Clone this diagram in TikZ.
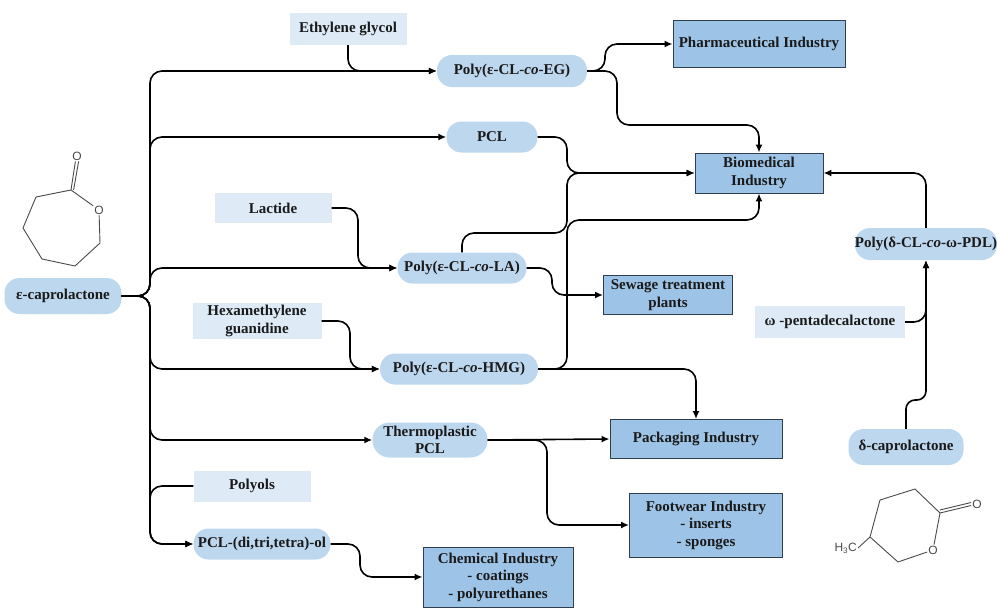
\documentclass[tikz,border=0pt]{standalone}
\usepackage{fontspec}
\setmainfont{Liberation Serif}
\newfontfamily\chemsans{Liberation Sans}
\usetikzlibrary{arrows.meta}
\definecolor{pillblue}{HTML}{BDD7EE}
\definecolor{srcblue}{HTML}{DEEBF7}
\definecolor{indblue}{HTML}{9DC3E6}
\definecolor{inddark}{HTML}{2F3F4F}
\definecolor{txt}{HTML}{1A1A1A}
\definecolor{chemgray}{HTML}{4A4A4A}
\tikzset{
  lbl/.style={font=\bfseries\fontsize{15}{17.5}\selectfont, text=txt, align=center, inner sep=0pt},
  pill/.style={lbl, fill=pillblue, rounded corners=15pt},
  srcbox/.style={lbl, fill=srcblue},
  indbox/.style={lbl, fill=indblue, draw=inddark, line width=0.9pt},
  conn/.style={line width=1.6pt, rounded corners=12pt, -{Latex[length=8pt,width=7pt]}},
  bond/.style={line width=0.9pt, chemgray},
  atom/.style={font=\chemsans\fontsize{12}{12}\selectfont, text=chemgray, inner sep=1pt}
}
\begin{document}
\begin{tikzpicture}[x=1pt,y=-1pt]
\useasboundingbox (0,0) rectangle (997,608);
% ---------- nodes ----------
\node[pill, minimum width=117, minimum height=36] (ecap) at (63,296) {ε-caprolactone};
\node[srcbox, minimum width=117, minimum height=32] (eg) at (348,29) {Ethylene glycol};
\node[pill, minimum width=150, minimum height=32] (pEG) at (512,71) {Poly(ε-CL-\textit{co}-EG)};
\node[pill, minimum width=91, minimum height=31] (pcl) at (492,137) {PCL};
\node[srcbox, minimum width=117, minimum height=30] (lac) at (273,208) {Lactide};
\node[pill, minimum width=129, minimum height=31] (pLA) at (462,268) {Poly(ε-CL-\textit{co}-LA)};
\node[srcbox, minimum width=129, minimum height=36] (hmg) at (257,321) {Hexamethylene\\guanidine};
\node[pill, minimum width=158, minimum height=31] (pHMG) at (459,369) {Poly(ε-CL-\textit{co}-HMG)};
\node[pill, minimum width=115, minimum height=35, rounded corners=17pt] (tpcl) at (430,440) {Thermoplastic\\PCL};
\node[srcbox, minimum width=117, minimum height=31] (polyols) at (252,486) {Polyols};
\node[pill, minimum width=137, minimum height=31] (pol) at (262,544) {PCL-(di,tri,tetra)-ol};
\node[indbox, minimum width=150, minimum height=60] (chem) at (498,577) {Chemical Industry\\- coatings\\- polyurethanes};
\node[indbox, minimum width=172, minimum height=47] (pharma) at (759,44) {Pharmaceutical Industry};
\node[indbox, minimum width=128, minimum height=40] (bio) at (759,173) {Biomedical\\Industry};
\node[indbox, minimum width=129, minimum height=39] (sew) at (668,295) {Sewage treatment\\plants};
\node[indbox, minimum width=172, minimum height=39] (pack) at (696,439) {Packaging Industry};
\node[indbox, minimum width=153, minimum height=64] (foot) at (706,525) {Footwear Industry\\- inserts\\- sponges};
\node[pill, minimum width=140, minimum height=32] (pPDL) at (926,244) {Poly(δ-CL-\textit{co}-ω-PDL)};
\node[srcbox, minimum width=150, minimum height=32] (omega) at (830,322) {ω -pentadecalactone};
\node[pill, minimum width=115, minimum height=36] (dcap) at (906,447) {δ-caprolactone};
% ---------- connectors from epsilon-caprolactone ----------
\draw[conn] (ecap.east) -- (150,296) |- (pEG.west);
\draw[conn] (ecap.east) -- (150,296) |- (pcl.west);
\draw[conn] (ecap.east) -- (150,296) |- (pLA.west);
\draw[conn] (ecap.east) -- (150,296) |- (pHMG.west);
\draw[conn] (ecap.east) -- (150,296) |- (tpcl.west);
\draw[conn] (ecap.east) -- (150,296) |- (pol.west);
% co-monomers
\draw[conn] (eg.south) |- (pEG.west);
\draw[conn] (lac.east) -- (358,208) |- (pLA.west);
\draw[conn] (hmg.east) -- (350,321) |- (pHMG.west);
\draw[conn] (polyols.west) -- (150,486) |- (pol.west);
% to industries
\draw[conn] (pEG.east) -- (605,71) |- (pharma.west);
\draw[conn] (pEG.east) -- (617,71) -- (617,125) -| (bio.north);
\draw[conn] (pcl.east) -- (567,137) |- (bio.west);
\draw[conn] (pLA.north) |- (567,233) |- (bio.west);
\draw[conn] (pLA.east) -- (552,268) |- (sew.west);
\draw[conn] (pHMG.east) -- (567,369) -- (567,220) -| (bio.south);
\draw[conn] (pHMG.east) -| (pack.north);
\draw[conn] (tpcl.east) -- (pack.west);
\draw[conn] (tpcl.east) -- (547,440) |- (foot.west);
\draw[conn] (pol.east) -- (360,544) |- (chem.west);
% right side
\draw[conn] (pPDL.north) |- (bio.east);
\draw[conn] (omega.east) -| (pPDL.south);
\draw[conn, rounded corners=9pt] (dcap.north) -- (906,400) -| (pPDL.south);
% ---------- epsilon-caprolactone structure ----------
\node[atom] (oA) at (77,156) {O};
\node[atom] (oB) at (99,210) {O};
\coordinate (c1) at (71,190);
\draw[bond] (c1) -- (oB) -- (100,243) -- (75,266) -- (42,259) -- (23,228) -- (36,197) -- (c1);
\draw[bond] (c1) -- ([xshift=-1.6pt]oA.south);
\draw[bond] ([xshift=2.6pt]c1) -- ([xshift=1.6pt]oA.south);
% ---------- delta-valerolactone (methyl) structure ----------
\node[atom] (oC) at (977,504) {O};
\node[atom] (oD) at (933,550) {O};
\node[atom, anchor=east] (me) at (858,548) {H\textsubscript{3}C};
\coordinate (c2) at (940,513);
\coordinate (c6) at (870,537);
\draw[bond] (c2) -- (oD) -- (898,562) -- (c6) -- (880,500) -- (915,489) -- (c2);
\draw[bond] (c6) -- (me.east);
\draw[bond] (c2) -- ([yshift=-1.5pt]oC.west);
\draw[bond] ([yshift=3pt]c2) -- ([yshift=1.5pt]oC.west);
\end{tikzpicture}
\end{document}
